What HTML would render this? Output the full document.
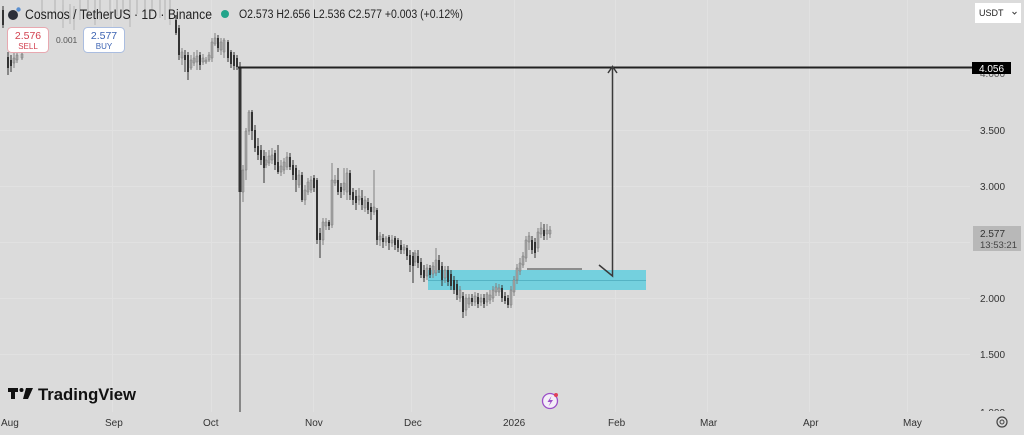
<!DOCTYPE html>
<html><head><meta charset="utf-8"><style>
html,body{margin:0;padding:0;background:#dbdbdb;}
svg{display:block;font-family:"Liberation Sans",sans-serif;}
</style></head><body>
<svg width="1024" height="435" viewBox="0 0 1024 435" xmlns="http://www.w3.org/2000/svg">
<rect width="1024" height="435" fill="#dbdbdb"/>
<!-- grid -->
<g stroke="#e1e1e1" stroke-width="1">
<path d="M112.5 0V412M211.5 0V412M313.5 0V412M411.5 0V412M514.5 0V412M615.5 0V412M707.5 0V412M809.5 0V412M907.5 0V412"/>
<path d="M0 130.5H970M0 186.5H970M0 242.5H970M0 298.5H970M0 354.5H970"/>
</g>
<!-- faint top candles -->
<path fill="none" stroke="#b4b4b4" stroke-width="1" d="M42 0V20M55 0V14M63 0V28M70 4V24M74 6V30M80 0V20M88 0V18M95 0V25M100 0V20M110 0V20M117 0V16M123 0V12M130 0V27M137 0V14M145 0V16M152 0V12M160 0V18M165 0V20M170 0V25"/>
<path fill="#c6c6c6" d="M41 0h2v12h-2zM54 0h2v10h-2zM62 5h2v15h-2zM69 8h2v12h-2zM73 10h2v12h-2zM79 5h2v10h-2zM87 0h2v12h-2zM94 0h2v18h-2zM99 0h2v15h-2zM109 0h2v10h-2zM116 0h2v12h-2zM122 0h2v8h-2zM129 0h2v20h-2zM136 0h2v10h-2zM144 0h2v12h-2zM151 0h2v8h-2zM159 0h2v10h-2zM164 0h2v15h-2zM169 0h2v12h-2z"/>
<!-- cyan zone -->
<rect x="428" y="270" width="218" height="20" fill="#74d0de"/>
<path d="M428 280.5H646" stroke="#55b3c4" stroke-width="1"/>
<!-- light candles -->
<path fill="none" stroke="#808080" stroke-width="1" d="M14 50V68M17 50V63M22 50V60M182 48V65M191 55V70M194 52V66M197 50V70M203 54V65M206 57V64M209 52V62M212 38V62M215 33V46M221 38V55M224 38V58M243 165V202M246 128V180M249 110V135M266 152V168M269 150V166M272 148V164M281 160V176M284 158V174M287 152V170M299 170V188M305 185V205M308 178V195M311 176V193M323 218V245M326 218V230M332 163V228M335 175V186M344 168V195M347 168V200M359 188V205M365 196V212M374 170V215M380 232V246M386 236V246M392 235V247M404 244V254M415 250V266M427 264V280M433 262V278M436 248V276M445 266V283M460 286V302M466 294V316M469 294V308M475 292V306M481 294V306M487 292V306M490 290V304M493 286V302M496 283V296M499 284V296M511 286V308M514 276V296M517 264V284M520 258V275M523 252V268M526 236V262M529 232V250M538 228V252M541 222V238M547 224V240M550 226V238"/>
<path fill="#a6a6a6" stroke="#7a7a7a" stroke-width="0.5" d="M13 58h2v5h-2zM16 55h2v5h-2zM21 54h2v4h-2zM181 52h2v6h-2zM190 60h2v8h-2zM193 58h2v5h-2zM196 56h2v6h-2zM202 58h2v4h-2zM205 60h2v2h-2zM208 55h2v5h-2zM211 42h2v16h-2zM214 38h2v6h-2zM220 42h2v8h-2zM223 40h2v12h-2zM242 170h2v22h-2zM245 131h2v39h-2zM248 112h2v19h-2zM265 160h2v5h-2zM268 156h2v7h-2zM271 155h2v5h-2zM280 166h2v6h-2zM283 162h2v8h-2zM286 157h2v10h-2zM298 175h2v10h-2zM304 190h2v10h-2zM307 182h2v10h-2zM310 180h2v10h-2zM322 222h2v18h-2zM325 222h2v4h-2zM331 180h2v45h-2zM334 180h2v3h-2zM343 183h2v7h-2zM346 173h2v19h-2zM358 196h2v4h-2zM364 200h2v8h-2zM373 207h2v5h-2zM379 236h2v4h-2zM385 238h2v4h-2zM391 240h2v3h-2zM403 247h2v3h-2zM414 253h2v9h-2zM426 268h2v8h-2zM432 266h2v8h-2zM435 260h2v13h-2zM444 270h2v8h-2zM459 290h2v8h-2zM465 298h2v12h-2zM468 298h2v6h-2zM474 296h2v6h-2zM480 298h2v4h-2zM486 294h2v8h-2zM489 295h2v5h-2zM492 290h2v8h-2zM495 287h2v5h-2zM498 288h2v4h-2zM510 290h2v15h-2zM513 280h2v12h-2zM516 268h2v12h-2zM519 263h2v8h-2zM522 256h2v9h-2zM525 240h2v18h-2zM528 236h2v6h-2zM537 232h2v16h-2zM540 228h2v6h-2zM546 230h2v4h-2zM549 230h2v4h-2z"/>
<!-- dark candles -->
<path fill="none" stroke="#333" stroke-width="1" d="M3 6V28M8 52V75M11 55V72M176 15V35M179 25V60M185 50V72M188 52V80M200 52V70M218 35V52M228 40V62M231 50V68M234 52V70M237 55V70M240 62V412M252 110V140M255 125V152M258 138V160M261 145V165M264 150V183M275 150V170M278 145V174M290 153V170M293 160V180M296 165V192M302 172V202M314 175V192M317 178V244M320 228V258M329 220V230M338 168V195M341 183V198M350 170V200M353 188V205M356 190V210M362 190V210M368 198V214M371 203V220M377 208V245M383 234V248M389 235V250M395 236V250M398 238V252M401 240V254M407 245V260M410 250V272M413 252V283M418 250V268M421 258V278M424 265V282M430 265V278M439 255V273M442 262V286M448 266V286M451 270V290M454 276V294M457 280V300M463 292V318M472 294V306M478 293V308M484 294V308M502 285V302M505 292V304M508 295V308M532 236V254M535 238V258M544 224V240"/>
<path fill="#333" d="M2 10h2v15h-2zM7 57h2v11h-2zM10 60h2v6h-2zM175 20h2v13h-2zM178 28h2v27h-2zM184 55h2v5h-2zM187 55h2v17h-2zM199 55h2v10h-2zM217 38h2v10h-2zM227 42h2v16h-2zM230 52h2v12h-2zM233 55h2v11h-2zM236 58h2v9h-2zM238.5 67h3v125h-3zM251 112h2v19h-2zM254 130h2v18h-2zM257 146h2v9h-2zM260 150h2v10h-2zM263 156h2v12h-2zM274 153h2v12h-2zM277 162h2v10h-2zM289 157h2v10h-2zM292 165h2v10h-2zM295 168h2v12h-2zM301 175h2v25h-2zM313 178h2v10h-2zM316 180h2v60h-2zM319 233h2v7h-2zM328 222h2v4h-2zM337 180h2v12h-2zM340 187h2v5h-2zM349 173h2v22h-2zM352 192h2v8h-2zM355 196h2v7h-2zM361 198h2v7h-2zM367 202h2v8h-2zM370 207h2v5h-2zM376 210h2v30h-2zM382 238h2v4h-2zM388 237h2v6h-2zM394 238h2v7h-2zM397 240h2v8h-2zM400 245h2v5h-2zM406 248h2v8h-2zM409 255h2v10h-2zM412 256h2v10h-2zM417 256h2v7h-2zM420 262h2v13h-2zM423 270h2v8h-2zM429 268h2v7h-2zM438 260h2v10h-2zM441 266h2v14h-2zM447 270h2v12h-2zM450 274h2v12h-2zM453 280h2v10h-2zM456 284h2v11h-2zM462 296h2v16h-2zM471 298h2v4h-2zM477 297h2v7h-2zM483 298h2v6h-2zM501 288h2v10h-2zM504 296h2v5h-2zM507 298h2v7h-2zM531 240h2v10h-2zM534 242h2v11h-2zM543 230h2v6h-2z"/>
<!-- drawings -->
<path d="M527 269H582" stroke="#8c8c8c" stroke-width="2"/>
<path d="M238 67.5H973" stroke="#222" stroke-width="2"/>
<path d="M612.5 67V276L599 265M608 73L612.5 66.5L617 73" fill="none" stroke="#3a3a3a" stroke-width="1.5"/>
<!-- price axis -->
<g font-size="10" fill="#333">
<text x="980" y="77" fill="#555">4.000</text>
<text x="980" y="134">3.500</text>
<text x="980" y="190">3.000</text>
<text x="980" y="302">2.000</text>
<text x="980" y="358">1.500</text>
<text x="980" y="416">1.000</text>
</g>
<rect x="972" y="411" width="52" height="8" fill="#dbdbdb"/>
<rect x="972" y="62" width="39" height="12" fill="#000"/>
<text x="979" y="72" font-size="10" fill="#fff">4.056</text>
<rect x="973" y="226" width="48" height="25" fill="#b8b8b8"/>
<text x="980" y="237" font-size="10" fill="#333">2.577</text>
<text x="980" y="248" font-size="9.5" fill="#444">13:53:21</text>
<rect x="975" y="3" width="46" height="20" fill="#fff"/>
<text x="979" y="16" font-size="9" fill="#222">USDT</text>
<path d="M1012.5 12L1014.5 14L1016.5 12" stroke="#444" fill="none" stroke-width="1"/>
<!-- time axis -->
<g font-size="10" fill="#333">
<text x="1" y="426">Aug</text>
<text x="105" y="426">Sep</text>
<text x="203" y="426">Oct</text>
<text x="305" y="426">Nov</text>
<text x="404" y="426">Dec</text>
<text x="503" y="426">2026</text>
<text x="608" y="426">Feb</text>
<text x="700" y="426">Mar</text>
<text x="803" y="426">Apr</text>
<text x="903" y="426">May</text>
</g>
<circle cx="1002" cy="422" r="5" fill="none" stroke="#444" stroke-width="1.2"/>
<circle cx="1002" cy="422" r="2" fill="none" stroke="#444" stroke-width="1"/>
<!-- header -->
<circle cx="13" cy="15" r="5" fill="#2b2f3a"/>
<circle cx="18.5" cy="9.5" r="2.2" fill="#5a8fd0"/>
<text x="25" y="19" font-size="13.5" fill="#222" textLength="187" lengthAdjust="spacingAndGlyphs">Cosmos / TetherUS · 1D · Binance</text>
<circle cx="225" cy="14" r="4" fill="#22a48a"/>
<text x="239" y="18" font-size="11.5" fill="#222" textLength="224" lengthAdjust="spacingAndGlyphs">O2.573 H2.656 L2.536 C2.577 +0.003 (+0.12%)</text>
<rect x="7.5" y="27.5" width="41" height="25" rx="4" fill="#fff" stroke="#e8a8b0"/>
<text x="28" y="39" font-size="10.5" fill="#d2404f" text-anchor="middle">2.576</text>
<text x="28" y="49" font-size="8" fill="#d2404f" text-anchor="middle">SELL</text>
<text x="56" y="43" font-size="8.5" fill="#555">0.001</text>
<rect x="83.5" y="27.5" width="41" height="25" rx="4" fill="#fff" stroke="#aabde0"/>
<text x="104" y="39" font-size="10.5" fill="#3b62b2" text-anchor="middle">2.577</text>
<text x="104" y="49" font-size="8" fill="#3b62b2" text-anchor="middle">BUY</text>
<!-- TradingView logo -->
<g fill="#111">
<path d="M8 388h10v4h-3v7h-4v-7h-3z"/>
<circle cx="21.5" cy="390" r="2"/>
<path d="M26 388h7l-5 11h-5z"/>
</g>
<text x="38" y="400" font-size="17" font-weight="bold" fill="#111" textLength="98" lengthAdjust="spacingAndGlyphs">TradingView</text>
<!-- lightning icon -->
<circle cx="550" cy="401" r="7.5" fill="#f4eef8" stroke="#9b4fc8" stroke-width="1.3"/>
<path d="M551.5 396L547.5 402H550.5L548.5 406.5L553 400H550Z" fill="#9b4fc8"/>
<circle cx="556" cy="395" r="2" fill="#e0405a"/>
</svg>
</body></html>
